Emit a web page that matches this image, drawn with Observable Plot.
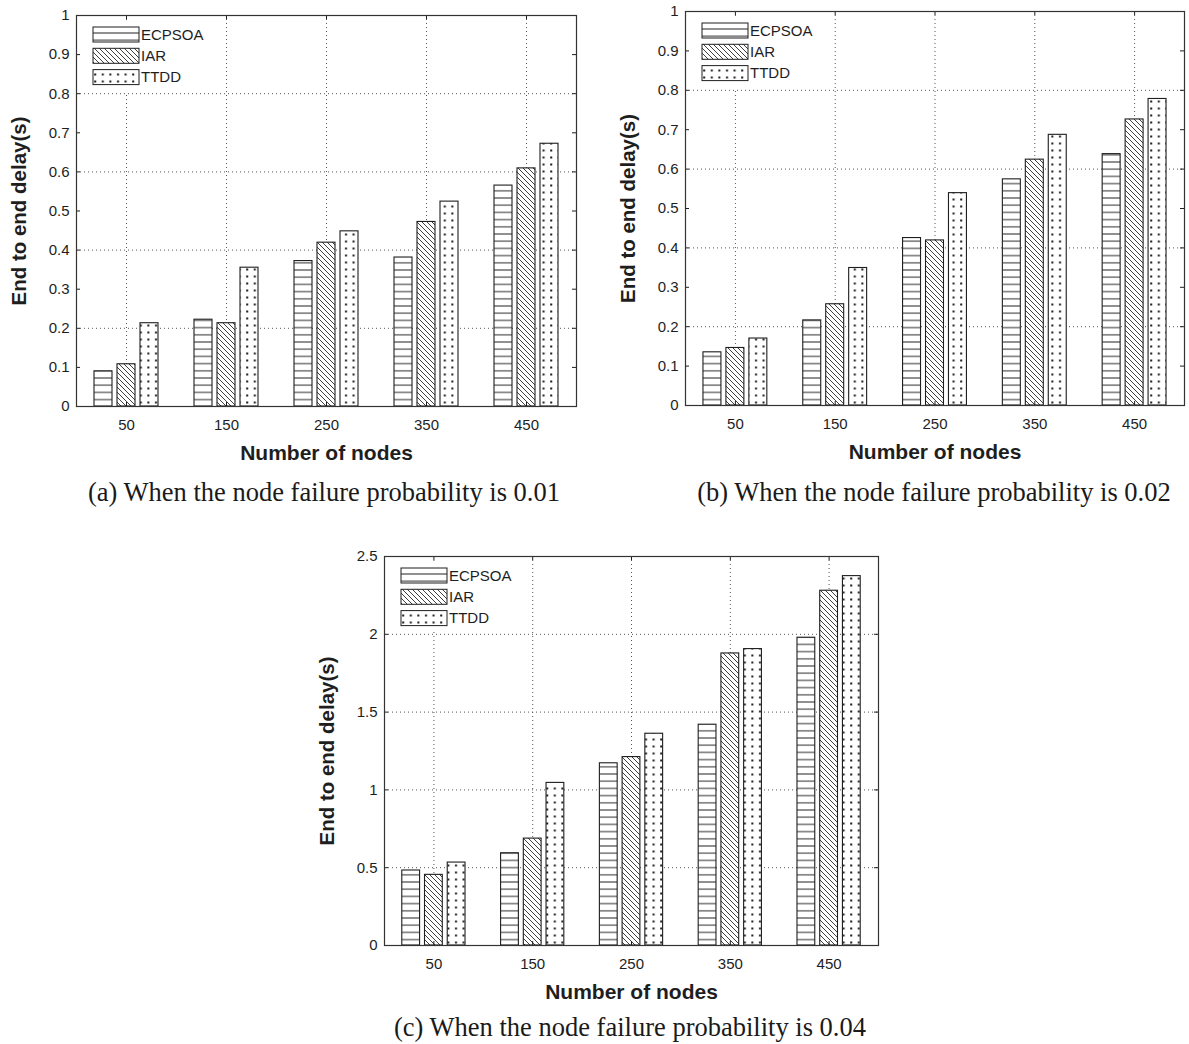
<!DOCTYPE html>
<html><head><meta charset="utf-8">
<script src="https://cdn.jsdelivr.net/npm/d3@7"></script>
<script src="https://cdn.jsdelivr.net/npm/@observablehq/plot@0.6"></script>
<style>
body{margin:0;background:#fff;}
#root{position:relative;width:1189px;height:1044px;overflow:hidden;background:#fff;}
.panel{position:absolute;}
.cap{position:absolute;font-family:"Liberation Serif","Times New Roman",serif;font-size:26.5px;color:#1a1a1a;white-space:nowrap;transform:translate(-50%,-50%);}
</style></head><body><div id="root"></div>
<script>
// ---- data ----
const nodes = [50, 150, 250, 350, 450];
const seriesNames = ["ECPSOA", "IAR", "TTDD"];
// (a) node failure probability 0.01
const a_ECPSOA = [0.090, 0.222, 0.372, 0.381, 0.565];
const a_IAR    = [0.108, 0.213, 0.419, 0.472, 0.609];
const a_TTDD   = [0.213, 0.355, 0.448, 0.524, 0.672];
// (b) node failure probability 0.02
const b_ECPSOA = [0.135, 0.216, 0.425, 0.574, 0.638];
const b_IAR    = [0.146, 0.257, 0.419, 0.624, 0.726];
const b_TTDD   = [0.170, 0.349, 0.539, 0.687, 0.778];
// (c) node failure probability 0.04
const c_ECPSOA = [0.482, 0.593, 1.171, 1.419, 1.978];
const c_IAR    = [0.454, 0.687, 1.211, 1.877, 2.280];
const c_TTDD   = [0.533, 1.045, 1.361, 1.905, 2.374];
// tick labels
const yTicks01 = [0, 0.1, 0.2, 0.3, 0.4, 0.5, 0.6, 0.7, 0.8, 0.9, 1];
const yGrid01  = [0.2, 0.4, 0.6, 0.8];
const yTicks25 = [0, 0.5, 1, 1.5, 2, 2.5];
const yGrid25  = [0.5, 1, 1.5, 2];
const xTitle = "Number of nodes";
const yTitle = "End to end delay(s)";
const captions = [
  "(a) When the node failure probability is 0.01",
  "(b) When the node failure probability is 0.02",
  "(c) When the node failure probability is 0.04"
];

// ---- layout / style ----
const offsets = [-23, 0, 23];   // bar offset inside group (x units)
const barW = 18;
const fmt = d3.format("~g");
const FONT = "'Liberation Sans', Arial, sans-serif";

function makePanel(cfg) {
  const {id, left, top, width, height, ml, mt, mr, mb, yDomain, yTicks, yGrid, values} = cfg;
  const innerW = width - ml - mr, innerH = height - mt - mb;
  const rows = [];
  seriesNames.forEach((s, si) => nodes.forEach((n, i) => rows.push({node: n, series: s, si, value: values[si][i]})));
  const bars = seriesNames.map((s, si) => Plot.rect(rows.filter(r => r.si === si), {
    x1: r => r.node + offsets[si] - barW / 2,
    x2: r => r.node + offsets[si] + barW / 2,
    y1: 0, y2: "value",
    fill: `url(#${id}-p${si})`, stroke: "#1e1e1e", strokeWidth: 1.1
  }));
  const gridStyle = {stroke: "#555", strokeOpacity: 1, strokeWidth: 1, strokeDasharray: "1,3"};
  const svg = Plot.plot({
    width, height, marginLeft: ml, marginTop: mt, marginRight: mr, marginBottom: mb,
    style: {fontFamily: FONT, fontSize: "15px", background: "transparent", color: "#1e1e1e", overflow: "visible"},
    x: {domain: [0, 500], axis: null},
    y: {domain: yDomain, axis: null},
    marks: [
      Plot.gridY(yGrid, gridStyle),
      Plot.gridX(nodes, gridStyle),
      ...bars,
      // inward ticks
      Plot.ruleY(yTicks, {y: d => d, insetRight: innerW - 4, stroke: "#1e1e1e"}),
      Plot.ruleY(yTicks, {y: d => d, insetLeft: innerW - 4, stroke: "#1e1e1e"}),
      Plot.ruleX(nodes, {x: d => d, insetTop: innerH - 4, stroke: "#1e1e1e"}),
      Plot.ruleX(nodes, {x: d => d, insetBottom: innerH - 4, stroke: "#1e1e1e"}),
      Plot.frame({stroke: "#333", strokeWidth: 1.2}),
      Plot.axisY(yTicks, {tickSize: 0, tickPadding: 7, tickFormat: fmt, fontSize: 15, label: null}),
      Plot.axisX(nodes, {tickSize: 0, tickPadding: 13, tickFormat: fmt, fontSize: 15, label: null}),
      Plot.text([yTitle], {text: d => d, frameAnchor: "left", dx: -57, rotate: -90, fontSize: 20.5, fontWeight: "bold", lineAnchor: "middle", textAnchor: "middle", fill: "#1e1e1e"}),
      Plot.text([xTitle], {text: d => d, frameAnchor: "bottom", dy: 47, fontSize: 21, fontWeight: "bold", lineAnchor: "middle", textAnchor: "middle", fill: "#1e1e1e"})
    ]
  });
  const s = d3.select(svg);
  const defs = s.insert("defs", ":first-child");
  // horizontal lines
  const p0 = defs.append("pattern").attr("id", `${id}-p0`).attr("patternUnits", "userSpaceOnUse").attr("width", 8).attr("height", 7.2);
  p0.append("rect").attr("width", 8).attr("height", 7.2).attr("fill", "#fff");
  p0.append("line").attr("x1", 0).attr("x2", 8).attr("y1", 3.6).attr("y2", 3.6).attr("stroke", "#2a2a2a").attr("stroke-width", 1);
  // diagonal "\" lines
  const p1 = defs.append("pattern").attr("id", `${id}-p1`).attr("patternUnits", "userSpaceOnUse").attr("width", 5).attr("height", 5);
  p1.append("rect").attr("width", 5).attr("height", 5).attr("fill", "#fff");
  p1.append("path").attr("d", "M-1,-1L6,6M-1,4L1,6M4,-1L6,1").attr("stroke", "#2a2a2a").attr("stroke-width", 0.9);
  // dots
  const p2 = defs.append("pattern").attr("id", `${id}-p2`).attr("patternUnits", "userSpaceOnUse").attr("width", 7.6).attr("height", 7);
  p2.append("rect").attr("width", 7.6).attr("height", 7).attr("fill", "#fff");
  p2.append("rect").attr("x", 3).attr("y", 2.5).attr("width", 2).attr("height", 2).attr("fill", "#1e1e1e");
  // legend (inside top-left of frame)
  const lg = s.append("g").attr("transform", `translate(${ml},${mt})`);
  lg.append("rect").attr("x", 5).attr("y", 5).attr("width", 135).attr("height", cfg.legendBg).attr("fill", "#fff");
  seriesNames.forEach((name, i) => {
    const y = 12 + i * 21.3;
    lg.append("rect").attr("x", 17).attr("y", y).attr("width", 46).attr("height", 15)
      .attr("fill", `url(#${id}-p${i})`).attr("stroke", "#1e1e1e").attr("stroke-width", 1);
    lg.append("text").attr("x", 65).attr("y", y + 7.5).attr("dy", "0.35em")
      .attr("text-anchor", "start").attr("font-size", 15).attr("fill", "#1e1e1e").text(name);
  });
  const wrap = document.createElement("div");
  wrap.className = "panel";
  wrap.style.left = left + "px";
  wrap.style.top = top + "px";
  wrap.appendChild(svg);
  document.getElementById("root").appendChild(wrap);
}

makePanel({id: "pa", left: 0, top: 0, width: 600, height: 470, ml: 76, mt: 15, mr: 24, mb: 64,
  yDomain: [0, 1], yTicks: yTicks01, yGrid: yGrid01, values: [a_ECPSOA, a_IAR, a_TTDD], legendBg: 72});
makePanel({id: "pb", left: 600, top: 0, width: 589, height: 470, ml: 85, mt: 11, mr: 5, mb: 65,
  yDomain: [0, 1], yTicks: yTicks01, yGrid: yGrid01, values: [b_ECPSOA, b_IAR, b_TTDD], legendBg: 73});
makePanel({id: "pc", left: 300, top: 540, width: 600, height: 470, ml: 84, mt: 16, mr: 22, mb: 65,
  yDomain: [0, 2.5], yTicks: yTicks25, yGrid: yGrid25, values: [c_ECPSOA, c_IAR, c_TTDD], legendBg: 70});

// captions
const capPos = [[324, 492], [934, 492], [630, 1027]];
captions.forEach((t, i) => {
  const d = document.createElement("div");
  d.className = "cap";
  d.style.left = capPos[i][0] + "px";
  d.style.top = capPos[i][1] + "px";
  d.textContent = t;
  document.getElementById("root").appendChild(d);
});
</script>
</body></html>
